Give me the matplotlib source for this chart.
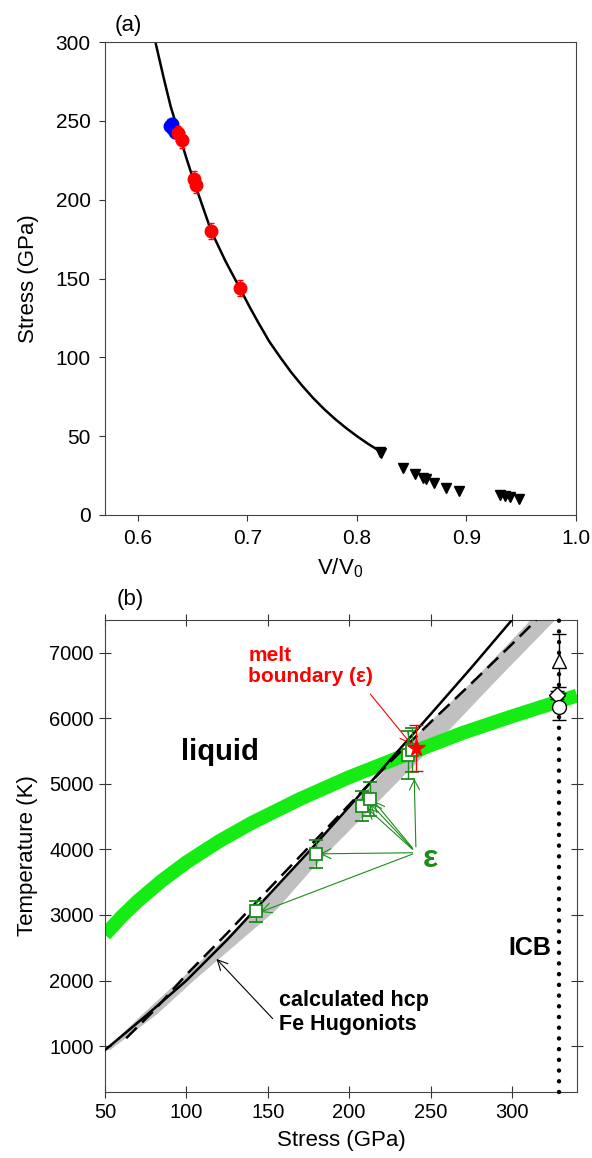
import matplotlib
matplotlib.use("Agg")
import matplotlib.pyplot as plt

plt.rcParams['font.family'] = ['Liberation Sans', 'DejaVu Sans']
plt.rcParams['mathtext.fontset'] = 'custom'
plt.rcParams['mathtext.rm'] = 'Liberation Sans'

# ---------------- panel (a) data ----------------
curve_v = [0.616, 0.620, 0.624, 0.630, 0.637, 0.644, 0.651, 0.659, 0.667, 0.680, 0.693, 0.702,
           0.710, 0.720, 0.730, 0.740, 0.750, 0.760, 0.770, 0.780, 0.790, 0.800, 0.810, 0.822]
curve_s = [300, 288, 276, 259, 243, 227, 212, 196, 180, 161, 144, 132,
           122, 110, 100, 90.5, 82, 74.2, 67.2, 60.9, 55.2, 50, 45.2, 40]

red_v = [0.637, 0.640, 0.651, 0.653, 0.667, 0.693]
red_s = [242, 238, 213, 209, 180, 144]

blue_v = [0.629, 0.632, 0.634, 0.631]
blue_s = [247, 245, 243, 248]

tri_v = [0.821, 0.822, 0.842, 0.853, 0.860, 0.863, 0.870, 0.881, 0.893, 0.931, 0.935, 0.940, 0.948]
tri_s = [40.1, 39.1, 29.6, 25.8, 23.7, 22.6, 20.1, 16.9, 15.2, 12.7, 12.2, 11.6, 10.0]

# ---------------- panel (b) data ----------------
melt_p = [50, 60, 70, 85, 100, 120, 140, 170, 200, 240, 270, 300, 340]
melt_t = [2700, 2970, 3210, 3525, 3803, 4123, 4403, 4772, 5102, 5494, 5780, 6030, 6347]

hug_p = [50, 75, 100, 125, 150, 175, 200, 225, 250, 275, 300]
hug_t = [940, 1460, 2000, 2620, 3290, 3960, 4650, 5360, 6060, 6770, 7500]

hug2_p = [63, 80, 100, 125, 150, 175, 200, 225, 250, 275, 300, 315]
hug2_t = [1120, 1540, 2090, 2720, 3380, 4030, 4680, 5330, 5940, 6530, 7130, 7500]

band_t = [950, 1500, 2000, 3087, 3847, 5825, 6582, 7500]
band_lo = [50, 73, 95, 143, 171, 244, 276, 311]
band_hi = [53, 82, 104, 155, 182, 261, 290, 326]

eps_p = [143, 179.4, 208, 212.6, 236, 238.5]
eps_t = [3060, 3933, 4657, 4769, 5442, 5520]
eps_err = [160, 215, 230, 260, 360, 340]

star_p = [241.2]
star_t = [5544]
star_err = [355]

icb_p = 329
icb_t = [6880, 6360, 6180]
icb_err = [405, 60, 200]

fig = plt.figure(figsize=(5.92, 11.58), dpi=100)

# ================= (a) =================
ax1 = fig.add_axes([105/592, 1-515/1158, 471/592, 473/1158])
ax1.plot(curve_v, curve_s, color='black', lw=1.8, zorder=2)
ax1.errorbar(blue_v, blue_s, xerr=0.003, yerr=4, fmt='o', color='blue', ms=9,
             capsize=2, elinewidth=0.8, zorder=3)
ax1.errorbar(red_v, red_s, xerr=0.003, yerr=5, fmt='o', color='red', ms=9,
             capsize=2.5, elinewidth=0.8, zorder=4)
ax1.plot(tri_v, tri_s, 'v', color='black', ms=7, zorder=3)
ax1.set_xlim(0.57, 1.0)
ax1.set_ylim(0, 300)
ax1.set_xticks([0.6, 0.7, 0.8, 0.9, 1.0])
ax1.set_xticklabels(['0.6', '0.7', '0.8', '0.9', '1.0'])
ax1.set_yticks([0, 50, 100, 150, 200, 250, 300])
ax1.tick_params(direction='out', length=4.3, pad=6, labelsize=15, top=False, right=False,
                color='#333333')
for sp in ax1.spines.values():
    sp.set_color('#444444')
ax1.set_xlabel('V/V$_0$', fontsize=16, labelpad=6)
ax1.set_ylabel('Stress (GPa)', fontsize=16, labelpad=12)
fig.text(128/592, 1-25/1158, '(a)', fontsize=16, ha='center', va='center')

# ================= (b) =================
ax2 = fig.add_axes([105/592, 1-1092/1158, 472/592, 472/1158])
ax2.fill_betweenx(band_t, band_lo, band_hi, color='#c0c0c0', lw=0, zorder=1)
ax2.plot(melt_p, melt_t, color='#14ec14', lw=10, solid_capstyle='butt', zorder=2)
ax2.plot(hug_p, hug_t, color='black', lw=1.8, zorder=3)
ax2.plot(hug2_p, hug2_t, color='black', lw=1.8, dashes=(6, 3), zorder=3)

ax2.plot([icb_p, icb_p], [300, 7500], color='black', lw=3.2,
         linestyle=(0, (0.01, 2.4)), dash_capstyle='round', zorder=3, clip_on=False)
ax2.errorbar([icb_p], [icb_t[0]], yerr=icb_err[0], fmt='^', mfc='white', mec='black',
             color='black', ms=10, capsize=5, elinewidth=1, zorder=5)
ax2.errorbar([icb_p - 1.5], [icb_t[1]], yerr=icb_err[1], fmt='D', mfc='white', mec='black',
             color='black', ms=8, capsize=5, elinewidth=1, zorder=5)
ax2.errorbar([icb_p], [icb_t[2]], yerr=icb_err[2], fmt='o', mfc='white', mec='black',
             color='black', ms=10, capsize=5, elinewidth=1, zorder=5)

ax2.errorbar(eps_p, eps_t, yerr=eps_err, fmt='s', mfc='white', mec='#1c8c1c',
             color='#1c8c1c', ms=8, mew=1.3, capsize=5, elinewidth=1, zorder=5)
ax2.errorbar(star_p, star_t, yerr=star_err, fmt='*', color='red', ms=13,
             capsize=5, elinewidth=1, zorder=6)

# epsilon arrows
green = '#1c8c1c'
eps_targets = [(145.5, 3045), (182, 3933), (211, 4630), (213, 4700), (215, 4740), (240, 5080)]
eps_starts = [(239, 3930), (239, 3950), (239, 4000), (239, 4010), (239, 4020), (241, 4040)]
for (xs, ys), (xe, ye) in zip(eps_starts, eps_targets):
    ax2.annotate('', xy=(xe, ye), xytext=(xs, ys),
                 arrowprops=dict(arrowstyle='->', color=green, lw=0.8,
                                 shrinkA=0, shrinkB=0, mutation_scale=18))
ax2.text(245, 3860, 'ε', color=green, fontsize=23, fontweight='bold', ha='left', va='center')

# melt boundary
ax2.text(138, 6800, 'melt\nboundary (ε)', color='red', fontsize=15, fontweight='bold',
         ha='left', va='center', linespacing=1.15)
ax2.annotate('', xy=(238, 5610), xytext=(213, 6370),
             arrowprops=dict(arrowstyle='->', color='red', lw=0.8,
                             shrinkA=0, shrinkB=0, mutation_scale=18))

ax2.text(120.5, 5480, 'liquid', fontsize=21, fontweight='bold', ha='center', va='center')
ax2.text(157, 1510, 'calculated hcp\nFe Hugoniots', fontsize=15.5, fontweight='bold',
         ha='left', va='center', linespacing=1.15)
ax2.annotate('', xy=(118.5, 2330), xytext=(153, 1420),
             arrowprops=dict(arrowstyle='->', color='black', lw=0.8,
                             shrinkA=0, shrinkB=0, mutation_scale=18))
ax2.text(324, 2500, 'ICB', fontsize=18, fontweight='bold', ha='right', va='center')

ax2.set_xlim(50, 340)
ax2.set_ylim(300, 7500)
ax2.set_xticks([50, 100, 150, 200, 250, 300])
ax2.set_yticks([1000, 2000, 3000, 4000, 5000, 6000, 7000])
ax2.tick_params(direction='inout', length=9, labelsize=14.5, top=True, right=True,
                color='#333333')
for sp in ax2.spines.values():
    sp.set_color('#444444')
ax2.set_xlabel('Stress (GPa)', fontsize=16, labelpad=6)
ax2.set_ylabel('Temperature (K)', fontsize=16, labelpad=8)
fig.text(130/592, 1-600/1158, '(b)', fontsize=16, ha='center', va='center')

fig.savefig('out.png', dpi=100)
